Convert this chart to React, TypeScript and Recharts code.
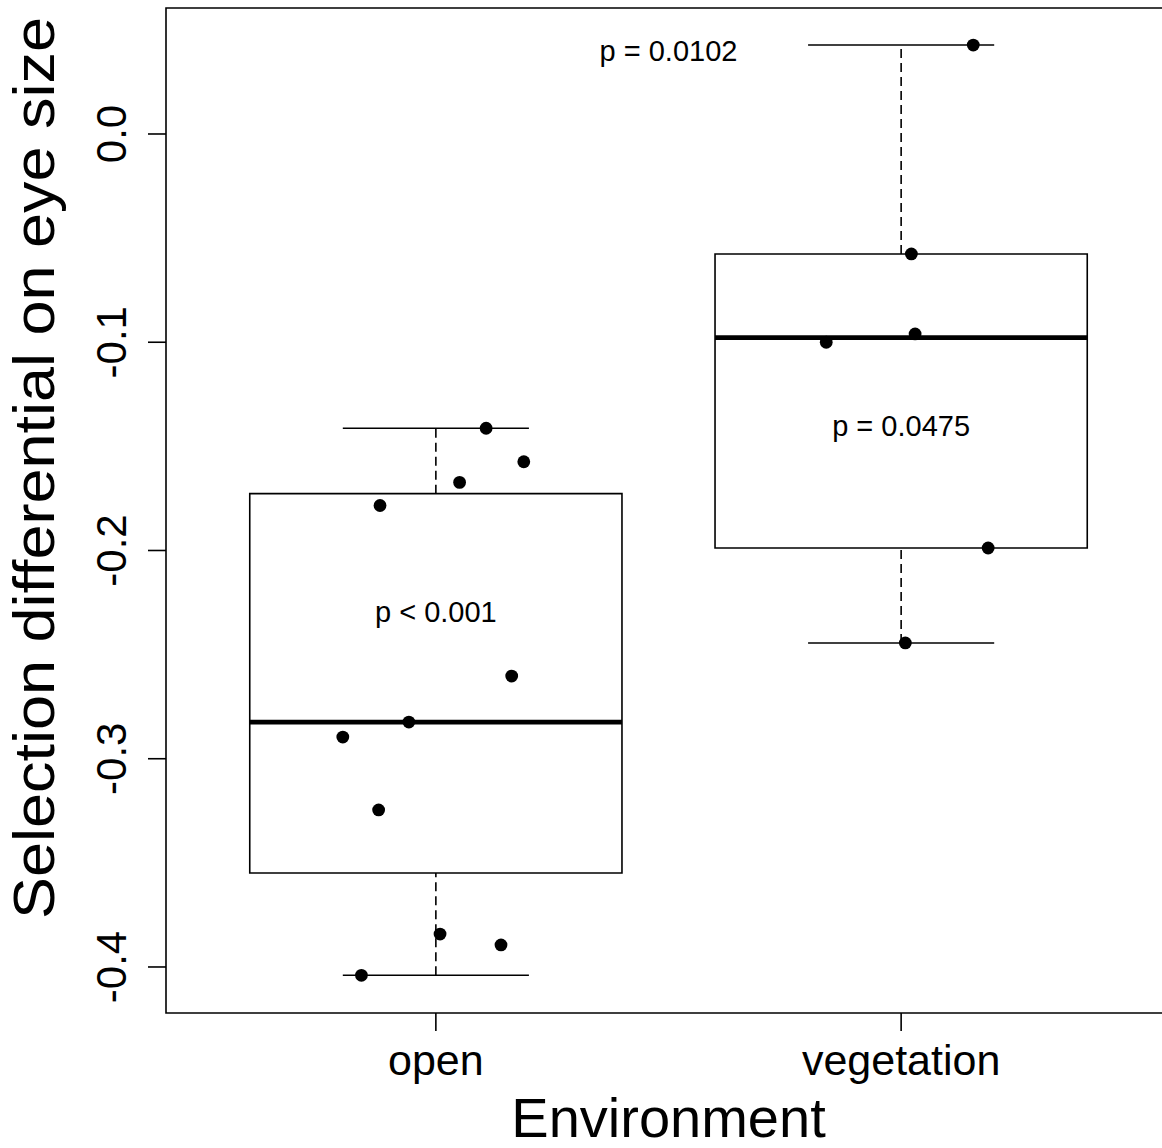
import React from 'react';
import {
  ComposedChart,
  Scatter,
  XAxis,
  YAxis,
  ReferenceArea,
  ReferenceLine,
} from 'recharts';

// ---- data ----
const categories = ['open', 'vegetation'];
const categoryPos = [1, 2];
const yTicks = [-0.4, -0.3, -0.2, -0.1, 0.0];

// observed points (value) and horizontal jitter (x position)
const openValues = [-0.1413, -0.1574, -0.1673, -0.1784, -0.2603, -0.2824, -0.2896, -0.3246, -0.3842, -0.3894, -0.404];
const openX = [1.108, 1.189, 1.051, 0.880, 1.163, 0.942, 0.800, 0.877, 1.009, 1.140, 0.840];
const vegValues = [0.0427, -0.0576, -0.096, -0.1, -0.1988, -0.2444];
const vegX = [2.155, 2.022, 2.030, 1.839, 2.187, 2.009];

// box statistics: [lower whisker, Q1, median, Q3, upper whisker]
const openStats = [-0.404, -0.3549, -0.2824, -0.1727, -0.1413];
const vegStats = [-0.2444, -0.1988, -0.0978, -0.0576, 0.0427];

// annotations
const noteText = ['p < 0.001', 'p = 0.0475', 'p = 0.0102'];
const noteX = [1, 2, 1.5];
const noteY = [-0.2291, -0.1402, 0.0399];

const FONT = '"Liberation Sans", Arial, Helvetica, sans-serif';
const X_DOMAIN = [0.42, 2.58];
const Y_DOMAIN = [-0.4221, 0.0605];
const BOX_HALF = 0.4;
const CAP_HALF = 0.2;

const openPts = openValues.map((v, i) => ({ x: openX[i], y: v }));
const vegPts = vegValues.map((v, i) => ({ x: vegX[i], y: v }));
const notes = noteText.map((t, i) => ({ x: noteX[i], y: noteY[i], text: t }));

const Dot = (props: any) => {
  const { cx, cy } = props;
  if (cx == null || cy == null) return null;
  return <circle cx={cx} cy={cy} r={6.4} fill="#000" />;
};

const Note = (props: any) => {
  const { cx, cy, payload } = props;
  if (cx == null || cy == null) return null;
  return (
    <text x={cx} y={cy} dy="0.36em" textAnchor="middle" fontFamily={FONT} fontSize={29} fill="#000">
      {payload.text}
    </text>
  );
};

const YTick = (props: any) => {
  const { x, y, payload } = props;
  return (
    <text
      x={x}
      y={y}
      transform={`rotate(-90, ${x}, ${y})`}
      textAnchor="middle"
      fontFamily={FONT}
      fontSize={42}
      fill="#000"
    >
      {Number(payload.value).toFixed(1)}
    </text>
  );
};

const XTick = (props: any) => {
  const { x, y, payload } = props;
  const idx = categoryPos.indexOf(payload.value);
  return (
    <text x={x} y={y} textAnchor="middle" fontFamily={FONT} fontSize={43} fill="#000">
      {idx >= 0 ? categories[idx] : ''}
    </text>
  );
};

const XLabel = (props: any) => {
  const vb = props.viewBox || {};
  return (
    <text x={vb.x + vb.width / 2} y={vb.y + 124} textAnchor="middle" fontFamily={FONT} fontSize={56} fill="#000">
      Environment
    </text>
  );
};

const YLabel = (props: any) => {
  const cx = 54;
  const cy = 468;
  return (
    <text
      x={cx}
      y={cy}
      transform={`rotate(-90, ${cx}, ${cy})`}
      textAnchor="middle"
      fontFamily={FONT}
      fontSize={57}
      textLength={902}
      lengthAdjust="spacingAndGlyphs"
      fill="#000"
    >
      Selection differential on eye size
    </text>
  );
};

const renderBox = (pos: number, s: number[], key: string) => {
  const [lo, q1, med, q3, hi] = s;
  const line = { stroke: '#000', strokeWidth: 1.6, ifOverflow: 'visible' as const };
  return [
    <ReferenceLine key={key + 'wu'} segment={[{ x: pos, y: q3 }, { x: pos, y: hi }]} {...line} strokeDasharray="9 5" />,
    <ReferenceLine key={key + 'wl'} segment={[{ x: pos, y: lo }, { x: pos, y: q1 }]} {...line} strokeDasharray="9 5" />,
    <ReferenceLine key={key + 'cu'} segment={[{ x: pos - CAP_HALF, y: hi }, { x: pos + CAP_HALF, y: hi }]} {...line} />,
    <ReferenceLine key={key + 'cl'} segment={[{ x: pos - CAP_HALF, y: lo }, { x: pos + CAP_HALF, y: lo }]} {...line} />,
    <ReferenceArea
      key={key + 'box'}
      x1={pos - BOX_HALF}
      x2={pos + BOX_HALF}
      y1={q1}
      y2={q3}
      fill="#fff"
      fillOpacity={0}
      stroke="#000"
      strokeWidth={1.6}
      ifOverflow="visible"
    />,
    <ReferenceLine
      key={key + 'med'}
      segment={[{ x: pos - BOX_HALF, y: med }, { x: pos + BOX_HALF, y: med }]}
      stroke="#000"
      strokeWidth={4.6}
      ifOverflow="visible"
    />,
  ];
};

export default function App() {
  return (
    <div
      style={{
        position: 'absolute',
        left: 0,
        top: 0,
        width: 1162,
        height: 1148,
        overflow: 'hidden',
        background: '#fff',
      }}
    >
      <ComposedChart
        width={1171}
        height={1148}
        margin={{ top: 8, right: 0, bottom: 0, left: 0 }}
        style={{ fontFamily: FONT }}
      >
        <XAxis
          type="number"
          dataKey="x"
          domain={X_DOMAIN}
          ticks={categoryPos}
          allowDataOverflow
          height={135}
          axisLine={false}
          tickLine={{ stroke: '#000', strokeWidth: 1.6 }}
          tickSize={18}
          tickMargin={44}
          tick={<XTick />}
          label={{ content: <XLabel /> }}
          interval={0}
        />
        <YAxis
          type="number"
          dataKey="y"
          domain={Y_DOMAIN}
          ticks={yTicks}
          allowDataOverflow
          width={166}
          axisLine={false}
          tickLine={{ stroke: '#000', strokeWidth: 1.6 }}
          tickSize={18}
          tickMargin={22}
          tick={<YTick />}
          label={{ content: <YLabel /> }}
          interval={0}
        />
        <ReferenceArea
          x1={X_DOMAIN[0]}
          x2={X_DOMAIN[1]}
          y1={Y_DOMAIN[0]}
          y2={Y_DOMAIN[1]}
          fill="#fff"
          fillOpacity={0}
          stroke="#000"
          strokeWidth={1.6}
          ifOverflow="visible"
        />
        {renderBox(categoryPos[0], openStats, 'open')}
        {renderBox(categoryPos[1], vegStats, 'veg')}
        <Scatter data={openPts} dataKey="y" shape={<Dot />} isAnimationActive={false} />
        <Scatter data={vegPts} dataKey="y" shape={<Dot />} isAnimationActive={false} />
        <Scatter data={notes} dataKey="y" shape={<Note />} isAnimationActive={false} />
      </ComposedChart>
    </div>
  );
}
